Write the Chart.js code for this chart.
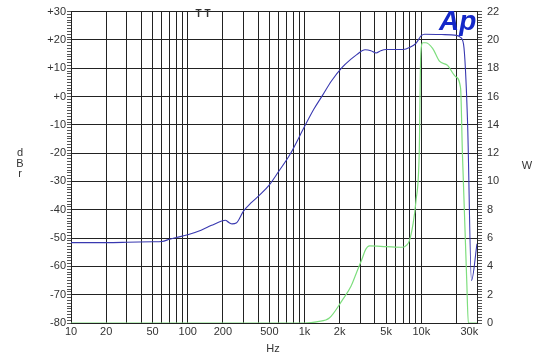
<html>
    <head>
        <title>
            Frequency Response
        </title>
        <style>
            body { margin: 0; background: #fff; }
            #wrap { width: 556px; height: 361px; }
        </style>
    </head>
    <body>
        <div id="wrap"><canvas id="myChart" width="556" height="361"></canvas></div>
    </body>
    <script src="https://cdnjs.cloudflare.com/ajax/libs/Chart.js/4.4.1/chart.umd.min.js"></script>
    <script>
    // blue trace, left axis (dBr)
    var blueFreq = [10, 20, 30, 50, 60, 70, 80, 100, 130, 160, 195, 210, 225, 240, 260, 300, 350, 420, 500, 600, 750, 1000, 1200, 1430, 1700, 2100, 2500, 2800, 3300, 3700, 4100, 4500, 5000, 7000, 8000, 9000, 10000, 10700, 15000, 20000, 21500, 23000, 24900, 26900, 30000];
    var blueDbr = [-51.6, -51.6, -51.5, -51.3, -51.2, -50.4, -49.8, -48.8, -47.2, -45.5, -44.0, -43.7, -44.5, -45.0, -44.7, -40.5, -37.5, -34.5, -31.2, -26.5, -20.5, -10.6, -4.5, 0.5, 5.5, 10.3, 13.2, 14.8, 16.5, 16.2, 15.4, 16.2, 16.6, 16.6, 17.4, 18.8, 21.5, 22.0, 21.9, 21.6, 21.0, 18.5, -8.9, -65, -52];

    // green trace, right axis (W)
    var greenFreq = [10, 1000, 1300, 1630, 2100, 2500, 2770, 3100, 3340, 3600, 5000, 6900, 7500, 7900, 8500, 9000, 9600, 9900, 10300, 10900, 12500, 14300, 16800, 19700, 21700, 22500, 24500, 25300, 30000];
    var greenW = [0, 0, 0.1, 0.35, 1.6, 2.6, 3.5, 4.5, 5.2, 5.45, 5.4, 5.35, 5.5, 5.8, 7.0, 8.6, 12, 19, 19.8, 19.8, 19.4, 18.5, 18.2, 17.4, 16.6, 12, 3, 0, 0];

    // x grid lines and labels
    var xGrid = [10, 20, 30, 40, 50, 60, 70, 80, 90, 100, 200, 300, 400, 500, 600, 700, 800, 900, 1000, 2000, 3000, 4000, 5000, 6000, 7000, 8000, 9000, 10000, 20000, 30000];
    var xLabelValues = [10, 20, 50, 100, 200, 500, 1000, 2000, 5000, 10000, 30000];
    var xLabelTexts = ['10', '20', '50', '100', '200', '500', '1k', '2k', '5k', '10k', '30k     '];

    var gridColor = '#222';
    var textColor = '#333';
    var font = { family: '"Liberation Sans", Arial, sans-serif', size: 11 };

    function pairs(xs, ys) {
        return xs.map(function(x, i) { return { x: x, y: ys[i] }; });
    }

    var textPlugin = {
        id: 'texts',
        afterDraw: function(chart) {
            var c = chart.ctx;
            c.save();
            c.fillStyle = textColor;
            c.font = '11px "Liberation Sans", Arial, sans-serif';
            c.textAlign = 'center';
            c.textBaseline = 'middle';
            c.fillText('d', 20, 153);
            c.fillText('B', 20, 164);
            c.fillText('r', 20, 174);
            c.fillText('W', 527, 166);
            c.fillText('Hz', 273, 349);
            c.font = 'bold 10px "Liberation Sans", Arial, sans-serif';
            c.fillText('T T', 203, 14);
            c.fillStyle = '#1428c8';
            c.font = 'italic bold 28px "Liberation Sans", Arial, sans-serif';
            c.textAlign = 'left';
            c.textBaseline = 'alphabetic';
            c.fillText('Ap', 439, 30);
            c.restore();
        }
    };

    var ctx = document.getElementById("myChart");
    var chart = new Chart(ctx, {
        type: 'line',
        data: {
            datasets: [{
                data: pairs(greenFreq, greenW),
                yAxisID: 'y2',
                borderColor: '#7ede7e',
                borderWidth: 1.2,
                pointRadius: 0,
                cubicInterpolationMode: 'monotone'
            }, {
                data: pairs(blueFreq, blueDbr),
                yAxisID: 'y',
                borderColor: '#3838b0',
                borderWidth: 1.1,
                pointRadius: 0,
                cubicInterpolationMode: 'monotone'
            }]
        },
        options: {
            responsive: false,
            animation: false,
            layout: { padding: { top: 9 } },
            plugins: { legend: { display: false }, tooltip: { enabled: false } },
            scales: {
                x: {
                    type: 'logarithmic',
                    min: 10,
                    max: 30000,
                    afterBuildTicks: function(scale) {
                        scale.ticks = xGrid.map(function(v) { return { value: v }; });
                    },
                    afterFit: function(scale) { scale.height = 38; },
                    ticks: {
                        autoSkip: false,
                        maxRotation: 0,
                        padding: 2,
                        color: textColor,
                        font: font,
                        callback: function(value) {
                            var i = xLabelValues.indexOf(value);
                            return i >= 0 ? xLabelTexts[i] : '';
                        }
                    },
                    grid: { color: gridColor, drawTicks: false },
                    border: { color: gridColor }
                },
                y: {
                    position: 'left',
                    min: -80,
                    max: 30,
                    afterBuildTicks: function(scale) {
                        var t = [];
                        for (var v = -80; v <= 30; v++) t.push({ value: v });
                        scale.ticks = t;
                    },
                    afterFit: function(scale) { scale.width = 71; },
                    ticks: {
                        autoSkip: false,
                        padding: 1,
                        color: textColor,
                        font: font,
                        callback: function(value) {
                            if (value % 10 !== 0) return '';
                            return value >= 0 ? '+' + value : '' + value;
                        }
                    },
                    grid: {
                        color: function(c) { return c.tick && c.tick.value % 10 === 0 ? gridColor : 'rgba(0,0,0,0)'; },
                        tickColor: '#555',
                        tickLength: 4
                    },
                    border: { color: gridColor }
                },
                y2: {
                    position: 'right',
                    min: 0,
                    max: 22,
                    afterBuildTicks: function(scale) {
                        var t = [];
                        for (var v = 0; v <= 110; v++) t.push({ value: v / 5 });
                        scale.ticks = t;
                    },
                    afterFit: function(scale) { scale.width = 79; },
                    ticks: {
                        autoSkip: false,
                        padding: 5,
                        color: textColor,
                        font: font,
                        callback: function(value, index) {
                            return index % 10 === 0 ? '' + Math.round(value) : '';
                        }
                    },
                    grid: {
                        drawOnChartArea: false,
                        tickColor: '#555',
                        tickLength: 5
                    },
                    border: { color: gridColor }
                }
            }
        },
        plugins: [textPlugin]
    });
    </script>
</html>
